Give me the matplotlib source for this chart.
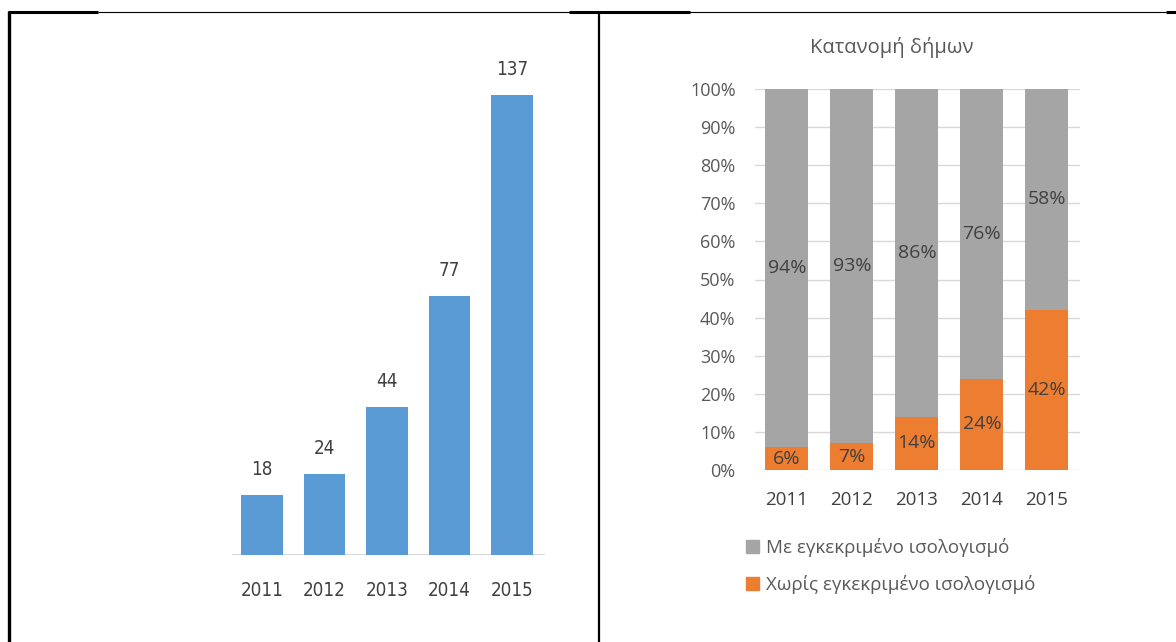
import matplotlib
matplotlib.use("Agg")
import matplotlib.pyplot as plt
from matplotlib.lines import Line2D
from matplotlib.patches import Patch
from matplotlib import font_manager

years = ["2011", "2012", "2013", "2014", "2015"]
counts = [18, 24, 44, 77, 137]
with_balance = [94, 93, 86, 76, 58]
without_balance = [6, 7, 14, 24, 42]
chart_title = "Κατανομή δήμων"
label_with = "Με εγκεκριμένο ισολογισμό"
label_without = "Χωρίς εγκεκριμένο ισολογισμό"

BLUE = "#5B9BD5"
GREY = "#A5A5A5"
ORANGE = "#ED7D31"
TEXT = "#595959"
DARK = "#404040"

W, H = 1176, 642
fig = plt.figure(figsize=(W / 100, H / 100), dpi=100)
fig.patch.set_facecolor("white")

names = {f.name for f in font_manager.fontManager.ttflist}
if "Liberation Sans Narrow" in names:
    narrow = dict(family=["Liberation Sans Narrow", "DejaVu Sans"])
else:
    narrow = dict(family=["DejaVu Sans"], fontstretch="condensed")
body = ["Open Sans", "DejaVu Sans"]


def px_axes(left, top, right, bottom):
    # pixel box (from top-left corner) -> figure axes
    return fig.add_axes([left / W, 1 - bottom / H, (right - left) / W, (bottom - top) / H])


# left chart: plain column chart with value labels
ax1 = px_axes(232, 60, 545, 555)
x = range(len(years))
bars = ax1.bar(x, counts, width=0.66, color=BLUE, zorder=2)
ax1.set_xlim(-0.48, 4.53)
ax1.set_ylim(0, 137 * 495 / 460)
for b, v in zip(bars, counts):
    ax1.text(b.get_x() + b.get_width() / 2, v + 137 * 16 / 460, str(v), ha="center", va="bottom",
             fontsize=13.5, color=DARK, **narrow)
for s in ax1.spines.values():
    s.set_visible(False)
ax1.axhline(0, color="#D9D9D9", lw=1.5, zorder=1)
ax1.set_yticks([])
ax1.set_xticks(list(x))
ax1.set_xticklabels(years, fontsize=13.5, color=DARK, **narrow)
ax1.tick_params(axis="x", length=0, pad=19)
ax1.set_facecolor("none")

# right chart: 100% stacked columns
ax2 = px_axes(755, 89, 1080, 470)
ax2.bar(x, without_balance, width=0.66, color=ORANGE, zorder=2)
ax2.bar(x, with_balance, width=0.66, bottom=without_balance, color=GREY, zorder=2)
ax2.set_xlim(-0.49, 4.51)
ax2.set_ylim(0, 100)
ax2.set_yticks(range(0, 101, 10))
ax2.set_yticklabels([f"{t}%" for t in range(0, 101, 10)], fontsize=13, color=TEXT, family=body)
ax2.set_xticks(list(x))
ax2.set_xticklabels(years, fontsize=13.5, color=DARK, family=body)
ax2.tick_params(axis="both", length=0)
ax2.tick_params(axis="x", pad=15)
ax2.tick_params(axis="y", pad=14)
ax2.grid(axis="y", color="#D9D9D9", lw=1, zorder=0)
for s in ax2.spines.values():
    s.set_visible(False)
for i in x:
    lo, hi = without_balance[i], with_balance[i]
    ax2.text(i, lo / 2, f"{lo}%", ha="center", va="center", fontsize=14, color=DARK, family=body)
    ax2.text(i, lo + hi / 2, f"{hi}%", ha="center", va="center", fontsize=14, color=DARK, family=body)
fig.text(892 / W, 1 - 48 / H, chart_title, ha="center", va="center", fontsize=14.5,
         color=TEXT, family=body)

handles = [Patch(color=GREY), Patch(color=ORANGE)]
fig.legend(handles, [label_with, label_without], loc="upper left",
           bbox_to_anchor=(729 / W, 1 - 521 / H), frameon=False,
           prop={"family": body, "size": 13.5}, labelcolor=TEXT,
           handlelength=0.7, handleheight=0.7, handletextpad=0.35, labelspacing=0.95)

# table borders around the two charts
def fig_line(x0, y0, x1, y1, lw):
    fig.add_artist(Line2D([x0 / W, x1 / W], [1 - y0 / H, 1 - y1 / H], color="black", lw=lw,
                          transform=fig.transFigure, solid_capstyle="butt"))

fig_line(98, 12, 1166, 12, 0.8)
fig_line(8, 12, 98, 12, 2.2)
fig_line(569, 12, 690, 12, 2.2)
fig_line(1166, 12, 1176, 12, 2.2)
fig_line(9, 11, 9, 642, 2.4)
fig_line(599, 11, 599, 642, 1.6)

fig.savefig("out.png", dpi=100)
